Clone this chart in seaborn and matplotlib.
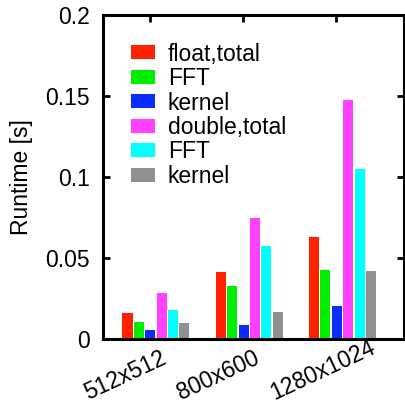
import matplotlib
matplotlib.use("Agg")
import matplotlib.pyplot as plt
import matplotlib.transforms as mtransforms
import seaborn as sns
import pandas as pd

# Image sizes on the x axis
sizes = ["512x512", "800x600", "1280x1024"]

# Runtime series (seconds), one value per image size
series_names = ["float,total", "FFT ", "kernel ", "double,total", "FFT", "kernel"]
float_total = [0.0159, 0.0412, 0.0628]
float_fft = [0.0103, 0.0325, 0.0424]
float_kernel = [0.0054, 0.0086, 0.0202]
double_total = [0.0284, 0.0745, 0.1477]
double_fft = [0.0181, 0.0572, 0.1051]
double_kernel = [0.0099, 0.0169, 0.0420]

colors = ["#FF2200", "#00EE00", "#0A2EFF", "#FF40FF", "#00FFFF", "#909090"]

series_values = [float_total, float_fft, float_kernel,
                 double_total, double_fft, double_kernel]
rows = []
for name, vals in zip(series_names, series_values):
    for size, v in zip(sizes, vals):
        rows.append({"size": size, "series": name, "runtime": v})
df = pd.DataFrame(rows)

sns.set_theme(style="white")
plt.rcParams["font.family"] = ["Liberation Sans", "DejaVu Sans"]
plt.rcParams["text.color"] = "black"
plt.rcParams["axes.labelcolor"] = "black"

FS = 16.5

fig = plt.figure(figsize=(4.06, 4.11), dpi=100)
ax = fig.add_axes([0.2537, 0.1752, 0.7426, 0.7883])

sns.barplot(data=df, x="size", y="runtime", hue="series",
            hue_order=series_names, order=sizes, palette=colors,
            saturation=1, width=0.733, gap=0.12, edgecolor="none",
            linewidth=0, errorbar=None, ax=ax)

ax.set_xlim(-0.568, 2.665)
ax.set_ylim(0, 0.2)
ax.set_yticks([0, 0.05, 0.1, 0.15, 0.2])
ax.set_yticklabels(["0", "0.05", "0.1", "0.15", "0.2"])

# Group ticks sit slightly left of each cluster centre
tick_pos = [i - 0.065 for i in range(len(sizes))]
ax.set_xticks(tick_pos)
ax.set_xticklabels(sizes)

for side in ["left", "right", "top", "bottom"]:
    ax.spines[side].set_visible(True)
    ax.spines[side].set_linewidth(2.2)
    ax.spines[side].set_color("black")

ax.tick_params(axis="y", which="both", direction="in", length=5, width=2,
               left=True, right=True, labelsize=FS, pad=9.5, colors="black")
ax.tick_params(axis="x", which="both", direction="in", length=5, width=2,
               top=True, bottom=False, labelsize=FS, pad=0, colors="black")

# Rotated size labels, anchored at their left baseline end
offset = mtransforms.ScaledTranslation(-0.62, -0.61, fig.dpi_scale_trans)
for lab in ax.get_xticklabels():
    lab.set_rotation(25)
    lab.set_rotation_mode("anchor")
    lab.set_ha("left")
    lab.set_va("baseline")
    lab.set_transform(lab.get_transform() + offset)

ax.set_xlabel("")
ax.set_ylabel("Runtime [s]", fontsize=FS, color="black")
ax.yaxis.set_label_coords(-0.232, 0.5)

handles, labels = ax.get_legend_handles_labels()
ax.legend(handles, [l.strip() for l in labels], loc="upper left",
          bbox_to_anchor=(0.093, 0.915), frameon=False, fontsize=FS,
          borderpad=0, borderaxespad=0, handlelength=1.05,
          handleheight=0.57, handletextpad=0.55, labelspacing=0.065)

fig.savefig("out.png", dpi=100)
